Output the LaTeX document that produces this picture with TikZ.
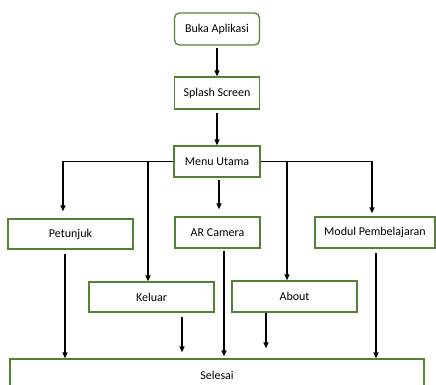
\documentclass[tikz,border=0pt]{standalone}
\usepackage{fontspec}
\setmainfont{Carlito}
\usetikzlibrary{arrows.meta}
\definecolor{boxgreen}{RGB}{84,130,53}
\begin{document}
\begin{tikzpicture}[x=1pt,y=-1pt,font=\fontsize{12}{14}\selectfont,
  box/.style={draw=boxgreen,line width=1.3pt,inner sep=0pt,minimum height=31pt},
  arr/.style={-{Triangle[length=6pt,width=5pt]},line width=1.4pt}]
\useasboundingbox (0,0) rectangle (436,385);
\clip (0,0) rectangle (436,385);

\node[box,rounded corners=5pt,minimum width=85pt,minimum height=32pt] (buka) at (217,29) {Buka Aplikasi};
\node[box,minimum width=85pt,minimum height=32pt] (splash) at (217,93) {Splash Screen};
\node[box,minimum width=86pt] (menu) at (217,161.5) {Menu Utama};

\node[box,minimum width=125pt,minimum height=30pt] (petunjuk) at (70.5,234) {Petunjuk};
\node[box,minimum width=85pt] (arcam) at (217.5,232.5) {AR Camera};
\node[box,minimum width=120pt] (modul) at (375,232.5) {Modul Pembelajaran};
\node[box,minimum width=125pt,minimum height=30pt] (keluar) at (151.5,297) {Keluar};
\node[box,minimum width=125pt] (about) at (294.5,296.5) {About};
\node[box,minimum width=414pt,minimum height=32pt] (selesai) at (217,375) {Selesai};

% alur atas
\draw[arr,shorten <=2pt] (buka) -- (splash);
\draw[arr,shorten <=3pt] (splash) -- (menu);

% cabang menu
\draw[arr,shorten >=7pt] (menu.west) -| ([xshift=-7.5pt]petunjuk.north);
\draw[arr] ([xshift=-3.5pt]keluar.north |- menu.west) -- ([xshift=-3.5pt]keluar.north);
\draw[arr,shorten <=2pt,shorten >=7pt] ([xshift=2pt]menu.south) -- ([xshift=1.5pt]arcam.north);
\draw[arr] ([xshift=-7.5pt]about.north |- menu.east) -- ([xshift=-7.5pt]about.north);
\draw[arr,shorten >=3pt] (menu.east) -| ([xshift=-3pt]modul.north);

% ke selesai
\draw[arr,shorten <=4pt] ([xshift=-5.5pt]petunjuk.south) -- ([xshift=-5.5pt]petunjuk.south |- selesai.north);
\draw[arr,shorten <=2pt,shorten >=2pt] ([xshift=6.5pt]arcam.south) -- ([xshift=6.5pt]arcam.south |- selesai.north);
\draw[arr,shorten <=4pt] ([xshift=1pt]modul.south) -- ([xshift=1pt]modul.south |- selesai.north);
\draw[arr,shorten <=4pt,shorten >=6pt] ([xshift=30.5pt]keluar.south) -- ([xshift=30.5pt]keluar.south |- selesai.north);
\draw[arr,shorten >=10pt] ([xshift=-28.5pt]about.south) -- ([xshift=-28.5pt]about.south |- selesai.north);
\end{tikzpicture}
\end{document}
